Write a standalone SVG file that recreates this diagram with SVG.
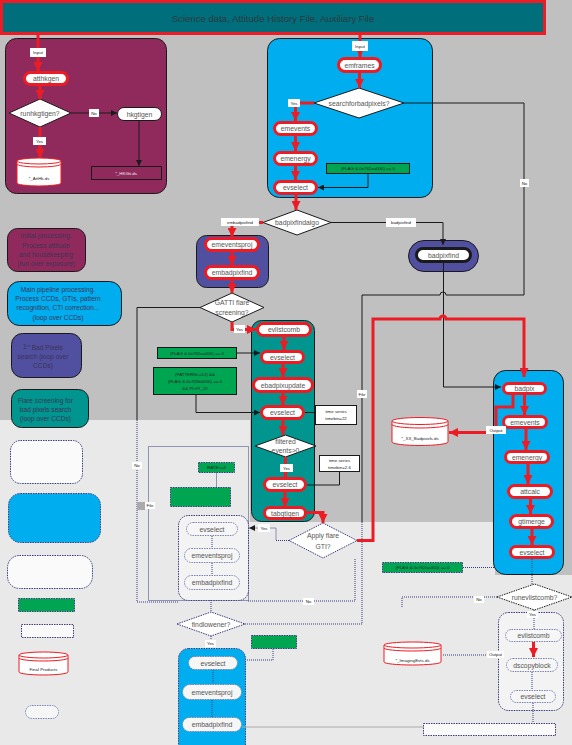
<svg xmlns="http://www.w3.org/2000/svg" width="572" height="745" viewBox="0 0 572 745">
<defs>
<style>
text{font-family:"Liberation Sans",Arial,Helvetica,sans-serif}
.t{font-size:6.8px;fill:#555;text-anchor:middle;dominant-baseline:central}
.lg{font-size:6.6px;fill:#3a3458;text-anchor:middle;dominant-baseline:central}
.s{font-size:4.4px;fill:#222;text-anchor:middle;dominant-baseline:central}
.pr{fill:#fff;stroke:#ed1c24;stroke-width:3}
.pk{fill:#fff;stroke:#1a1a1a;stroke-width:1}
.pd{fill:#f6f6f6;stroke:#7a80b0;stroke-width:1;stroke-dasharray:1.5 1}
.dm{fill:#fff;stroke:#1a1a1a;stroke-width:1}
.dd{fill:#fafafa;stroke:#3a3a80;stroke-width:1;stroke-dasharray:1.5 1}
.lb{fill:#fff}
.gb{fill:#00a551;stroke:#1a1a1a;stroke-width:1}
.gd{fill:#00a551;stroke:#3a3a80;stroke-width:1;stroke-dasharray:1.5 1}
.wb{fill:#fff;stroke:#1a1a1a;stroke-width:1}
.r{fill:none;stroke:#ed1c24;stroke-width:3}
.k{fill:none;stroke:#1a1a1a;stroke-width:1}
.d{fill:none;stroke:#3a3a80;stroke-width:1;stroke-dasharray:1 1}
.cy{fill:#fff;stroke:#ed1c24;stroke-width:1}
</style>
<marker id="ar" viewBox="0 0 10 10" refX="10" refY="5" markerWidth="9" markerHeight="9" markerUnits="userSpaceOnUse" orient="auto"><path d="M0,0L10,5L0,10z" fill="#ed1c24"/></marker>
<marker id="ak" viewBox="0 0 10 10" refX="10" refY="5" markerWidth="6" markerHeight="6" markerUnits="userSpaceOnUse" orient="auto"><path d="M0,0L10,5L0,10z" fill="#1a1a1a"/></marker>
</defs>
<rect width="572" height="745" fill="#c0c0c0"/>
<path d="M0,420 H250 V522 H495 V575 H572 V745 H0 Z" fill="#e9e9e9"/>

<g id="title"><rect x="1.5" y="1.5" width="543" height="32" fill="#006e7b" stroke="#ed1c24" stroke-width="3"/><text x="273" y="18" font-size="9.6" fill="#2b3a40" text-anchor="middle" dominant-baseline="central">Science data, Attitude History File, Auxiliary File</text></g>

<g id="grp-initial"><rect x="5.5" y="38.5" width="161" height="155" rx="11" fill="#912a5c" stroke="#1a1a1a"/></g>
<g id="grp-main"><rect x="267.5" y="38.5" width="165" height="159" rx="12" fill="#00aeef" stroke="#1a1a1a"/></g>
<g id="grp-badpix1"><rect x="196.5" y="235.5" width="72" height="52" rx="10" fill="#514f9f" stroke="#1a1a1a"/></g>
<g id="grp-flare"><rect x="251.5" y="320.5" width="63" height="201" rx="10" fill="#00958e" stroke="#1a1a1a"/></g>
<g id="grp-badpix"><rect x="493.5" y="370.5" width="70" height="204" rx="12" fill="#00aeef" stroke="#1a1a1a"/></g>
<g id="grp-badpixfind"><rect x="408.5" y="240.5" width="70" height="31" rx="15.5" fill="#514f9f" stroke="#1a1a1a"/></g>
<g id="grp-mid"><rect x="148.5" y="446.5" width="100" height="154" fill="none" stroke="#3a3a80" stroke-dasharray="1 1"/><rect x="178.5" y="515.5" width="70" height="85" rx="10" fill="#f3f3f3" stroke="#3a3a80" stroke-dasharray="1.5 1"/></g>
<g id="grp-low"><rect x="178.5" y="648.5" width="67" height="110" rx="10" fill="#00aeef" stroke="#3a3a80" stroke-dasharray="1.5 1"/></g>
<g id="grp-comb"><rect x="498.5" y="612.5" width="65" height="98" rx="10" fill="#f3f3f3" stroke="#3a3a80" stroke-dasharray="1.5 1"/></g>

<!-- legend -->
<g id="leg-initial"><rect x="7.5" y="228.5" width="78" height="43" rx="10" fill="#912a5c" stroke="#1a1a1a"/><text class="lg" x="46" y="235.7">Initial processing.</text><text class="lg" x="46" y="245">Process attitude</text><text class="lg" x="46" y="254.7">and housekeeping</text><text class="lg" x="46" y="263.7">(run over exposure)</text></g>
<g id="leg-main"><rect x="7.5" y="281.5" width="114" height="44" rx="12" fill="#00aeef" stroke="#1a1a1a"/><text class="lg" x="58" y="289">Main pipeline processing.</text><text class="lg" x="58" y="298">Process CCDs, GTIs, pattern</text><text class="lg" x="58" y="307.7">recognition, CTI correction...</text><text class="lg" x="58" y="317">(loop over CCDs)</text></g>
<g id="leg-bad1"><rect x="11.5" y="333.5" width="70" height="44" rx="11" fill="#514f9f" stroke="#1a1a1a"/><text class="lg" x="43" y="346.7">1<tspan font-size="4" dy="-2">st</tspan><tspan dy="2">  Bad Pixels</tspan></text><text class="lg" x="43" y="356.7">search (loop over</text><text class="lg" x="43" y="365.7">CCDs)</text></g>
<g id="leg-flare"><rect x="11.5" y="389.5" width="77" height="38" rx="10" fill="#00958e" stroke="#1a1a1a"/><text class="lg" x="45.5" y="400">Flare screening for</text><text class="lg" x="45.5" y="409">bad pixels search</text><text class="lg" x="45.5" y="418">(loop over CCDs)</text></g>
<g id="leg-5"><rect x="10.5" y="440.5" width="72" height="43" rx="10" class="dd"/></g>
<g id="leg-6"><rect x="8.5" y="493.5" width="92" height="49" rx="12" fill="#00aeef" stroke="#3a3a80" stroke-dasharray="1.5 1"/></g>
<g id="leg-7"><rect x="7.5" y="555.5" width="85" height="33" rx="12" class="dd"/></g>
<g id="leg-8"><rect x="18.5" y="598.5" width="56" height="13" class="gd"/></g>
<g id="leg-9"><rect x="21.5" y="624.5" width="52" height="13" class="dd"/></g>
<g id="leg-10"><path d="M19,655 V672 A24.5,3 0 0 0 68,672 V655" class="cy" stroke="#bbb"/><ellipse cx="43.5" cy="655" rx="24.5" ry="3" class="cy"/><path d="M19,658 A24.5,3 0 0 0 68,658" fill="none" stroke="#ed1c24"/><text class="s" x="43.5" y="669">Final Products</text></g>
<g id="leg-11"><rect x="25.5" y="705.5" width="33" height="13" rx="6.5" class="pd"/></g>

<!-- initial processing -->
<g id="n-atthkgen"><rect x="24.5" y="72.5" width="43" height="12" rx="6" class="pr"/><text class="t" x="46" y="78.5">atthkgen</text></g>
<g id="n-runhkgtigen"><path d="M9,113L40,99L71,113L40,127Z" class="dm"/><text class="t" x="40" y="113">runhkgtigen?</text></g>
<g id="n-hkgtigen"><rect x="117.5" y="107.5" width="44" height="13" rx="6.5" class="pk"/><text class="t" x="139.5" y="114">hkgtigen</text></g>
<g id="n-hkgti"><rect x="91.5" y="166.5" width="70" height="13" fill="none" stroke="#1a1a1a"/><text class="s" x="126" y="173" fill="#eee" style="fill:#eee">*_HKGti.ds</text></g>
<g id="n-atthk"><path d="M17,161 V183 A22,3 0 0 0 61,183 V161" class="cy" stroke="#ddd"/><ellipse cx="39" cy="161" rx="22" ry="3" class="cy"/><path d="M17,164 A22,3 0 0 0 61,164" fill="none" stroke="#ed1c24"/><text class="s" x="39" y="178">*_AttHk.ds</text></g>

<!-- main pipeline -->
<g id="n-emframes"><rect x="338.5" y="58.5" width="42" height="13" rx="6.5" class="pr"/><text class="t" x="359.5" y="65">emframes</text></g>
<g id="n-search"><path d="M314,103L359,88L404,103L359,118Z" class="dm"/><text class="t" x="359" y="103">searchforbadpixels?</text></g>
<g id="n-emevents1"><rect x="274.5" y="122.5" width="42" height="12" rx="6" class="pr"/><text class="t" x="295.5" y="128.5">emevents</text></g>
<g id="n-emenergy1"><rect x="274.5" y="152.5" width="42" height="12" rx="6" class="pr"/><text class="t" x="295.5" y="158.5">emenergy</text></g>
<g id="n-evselect1"><rect x="274.5" y="181.5" width="42" height="12" rx="6" class="pr"/><text class="t" x="295.5" y="187.5">evselect</text></g>
<g id="n-g1"><rect x="326.5" y="163.5" width="83" height="10" class="gb"/><text class="s" x="368" y="168.5">(FLAG &amp; 0x762aa000) == 0</text></g>
<g id="n-algo"><path d="M263,222.5L297,210L331,222.5L297,235Z" class="dm"/><text class="t" x="297" y="222.5">badpixfindalgo</text></g>

<!-- first bad pixel search -->
<g id="n-emeventsproj1"><rect x="205.5" y="238.5" width="53" height="12" rx="6" class="pr"/><text class="t" x="232" y="244.5">emeventsproj</text></g>
<g id="n-embadpixfind1"><rect x="205.5" y="266.5" width="53" height="12" rx="6" class="pr"/><text class="t" x="232" y="272.5">embadpixfind</text></g>
<g id="n-gatti"><path d="M200,307.5L232,293L264,307.5L232,322Z" class="dm"/><text class="t" x="232" y="302.7">GATTI flare</text><text class="t" x="232" y="312">screening?</text></g>
<g id="n-badpixfind"><rect x="416.5" y="248.5" width="54" height="13" rx="6.5" fill="#fff" stroke="#1a1a1a" stroke-width="3"/><text class="t" x="443.5" y="255">badpixfind</text></g>

<!-- flare screening -->
<g id="n-evlistcomb1"><rect x="257.5" y="323.5" width="53" height="12" rx="6" class="pr"/><text class="t" x="284" y="329.5">evlistcomb</text></g>
<g id="n-evselect2"><rect x="261.5" y="351.5" width="42" height="11" rx="5.5" class="pr"/><text class="t" x="282.5" y="357">evselect</text></g>
<g id="n-g2"><rect x="157.5" y="347.5" width="79" height="11" class="gb"/><text class="s" x="197" y="353">(FLAG &amp; 0x762aa000) == 0</text></g>
<g id="n-ebadpixupdate"><rect x="253.5" y="378.5" width="59" height="13" rx="6.5" class="pr"/><text class="t" x="283" y="385">ebadpixupdate</text></g>
<g id="n-g3"><rect x="153.5" y="367.5" width="83" height="27" class="gb"/><text class="s" x="195" y="374">(PATTERN&lt;=12) &amp;&amp;</text><text class="s" x="195" y="381">(FLAG &amp; 0x762b0000) == 0</text><text class="s" x="195" y="388">&amp;&amp; PI&gt;PI_22</text></g>
<g id="n-evselect3"><rect x="261.5" y="406.5" width="42" height="12" rx="6" class="pr"/><text class="t" x="282.5" y="412.5">evselect</text></g>
<g id="n-ts1"><rect x="315.5" y="405.5" width="41" height="19" class="wb"/><text class="s" x="336" y="411">time series</text><text class="s" x="336" y="418.5">timebin=22</text></g>
<g id="n-filtered"><path d="M255,446L285.5,435L316,446L285.5,457Z" class="dm"/><text class="t" x="285.5" y="441.5">filtered</text><text class="t" x="285.5" y="450.5">events&gt;0</text></g>
<g id="n-ts2"><rect x="319.5" y="455.5" width="40" height="16" class="wb"/><text class="s" x="339.5" y="460.5">time series</text><text class="s" x="339.5" y="467">timebin=2.6</text></g>
<g id="n-evselect4"><rect x="264.5" y="478.5" width="41" height="12" rx="6" class="pr"/><text class="t" x="285" y="484.5">evselect</text></g>
<g id="n-tabgtigen"><rect x="264.5" y="507.5" width="41" height="11" rx="5.5" class="pr"/><text class="t" x="285" y="513">tabgtigen</text></g>
<g id="n-apply"><path d="M289,540.5L323,523L357,540.5L323,558Z" fill="#fff" stroke="#3a3a80" stroke-dasharray="1.5 1"/><text class="t" x="323" y="535.5">Apply flare</text><text class="t" x="323" y="546">GTI?</text></g>

<!-- badpix chain -->
<g id="n-badpix"><rect x="503.5" y="383.5" width="42" height="10" rx="5" class="pr"/><text class="t" x="524.5" y="388.5">badpix</text></g>
<g id="n-emevents2"><rect x="503.5" y="416.5" width="43" height="11" rx="5.5" class="pr"/><text class="t" x="525" y="422">emevents</text></g>
<g id="n-emenergy2"><rect x="505.5" y="451.5" width="43" height="11" rx="5.5" class="pr"/><text class="t" x="527" y="457">emenergy</text></g>
<g id="n-attcalc"><rect x="508.5" y="485.5" width="43" height="12" rx="6" class="pr"/><text class="t" x="530" y="491.5">attcalc</text></g>
<g id="n-gtimerge"><rect x="510.5" y="515.5" width="42" height="12" rx="6" class="pr"/><text class="t" x="531.5" y="521.5">gtimerge</text></g>
<g id="n-evselect5"><rect x="510.5" y="546.5" width="43" height="11" rx="5.5" class="pr"/><text class="t" x="532" y="552">evselect</text></g>
<g id="n-badpixels"><path d="M392,421 V442 A28,3.5 0 0 0 448,442 V421" class="cy" stroke="#ddd"/><ellipse cx="420" cy="421" rx="28" ry="3.5" class="cy"/><path d="M392,424.5 A28,3.5 0 0 0 448,424.5" fill="none" stroke="#ed1c24"/><text class="s" x="420" y="438">*_XX_Badpixels.ds</text></g>

<!-- lower middle -->
<g id="n-rate"><rect x="198.5" y="462.5" width="36" height="10" class="gd"/><text class="s" x="216.5" y="467.5">RATE&lt;=2</text></g>
<g id="n-gti"><rect x="170.5" y="487.5" width="60" height="19" class="gd"/></g>
<g id="n-evselect6"><rect x="186.5" y="522.5" width="51" height="13" rx="6.5" class="pd"/><text class="t" x="212" y="529">evselect</text></g>
<g id="n-emeventsproj2"><rect x="184.5" y="548.5" width="55" height="14" rx="7" class="pd"/><text class="t" x="212" y="555.5">emeventsproj</text></g>
<g id="n-embadpixfind2"><rect x="184.5" y="575.5" width="55" height="14" rx="7" class="pd"/><text class="t" x="212" y="582.5">embadpixfind</text></g>
<g id="n-lowener"><path d="M177,624L211,612L245,624L211,636Z" fill="#fff" stroke="#3a3a80" stroke-dasharray="1.5 1"/><text class="t" x="211" y="624">findlowener?</text></g>
<g id="n-g4"><rect x="251.5" y="635.5" width="45" height="13" class="gd"/></g>
<g id="n-evselect7"><rect x="188.5" y="656.5" width="49" height="13" rx="6.5" class="pd"/><text class="t" x="213" y="663">evselect</text></g>
<g id="n-emeventsproj3"><rect x="182.5" y="684.5" width="59" height="15" rx="7.5" class="pd"/><text class="t" x="212" y="692">emeventsproj</text></g>
<g id="n-embadpixfind3"><rect x="182.5" y="717.5" width="59" height="14" rx="7" class="pd"/><text class="t" x="212" y="724.5">embadpixfind</text></g>

<!-- lower right -->
<g id="n-g5"><rect x="382.5" y="562.5" width="80" height="10" class="gd"/><text class="s" x="422.5" y="567.5">(FLAG &amp; 0x762aa000) == 0</text></g>
<g id="n-runcomb"><path d="M497,597L534.5,584L572,597L534.5,610Z" fill="#fff" stroke="#1a1a1a" stroke-dasharray="1.5 1"/><text class="t" x="534.5" y="597">runevlistcomb?</text></g>
<g id="n-evlistcomb2"><rect x="505.5" y="629.5" width="56" height="12" rx="6" class="pd"/><text class="t" x="533.5" y="635.5">evlistcomb</text></g>
<g id="n-dscopyblock"><rect x="506.5" y="658.5" width="51" height="13" rx="6.5" class="pd"/><text class="t" x="532" y="665">dscopyblock</text></g>
<g id="n-evselect8"><rect x="510.5" y="690.5" width="45" height="12" rx="6" class="pd"/><text class="t" x="533" y="696.5">evselect</text></g>
<g id="n-imaging"><path d="M384,645 V662 A28.5,3 0 0 0 441,662 V645" class="cy" stroke="#ccc"/><ellipse cx="412.5" cy="645" rx="28.5" ry="3" class="cy"/><path d="M384,648 A28.5,3 0 0 0 441,648" fill="none" stroke="#ed1c24"/><text class="s" x="412.5" y="660">*_ImagingEvts.ds</text></g>
<g id="n-final"><rect x="423.5" y="723.5" width="132" height="12" fill="#fafafa" stroke="#3a3a80" stroke-dasharray="1.5 1"/></g>

<g id="connectors">
<path class="r" d="M38,35V71" marker-end="url(#ar)"/>
<path class="r" d="M40,86V99" marker-end="url(#ar)"/>
<path class="k" d="M71,113H117" marker-end="url(#ak)"/>
<path class="k" d="M139,121V166" marker-end="url(#ak)"/>
<path class="r" d="M40,127V158" marker-end="url(#ar)"/>
<path class="r" d="M360,35V57" marker-end="url(#ar)"/>
<path class="r" d="M359.5,73V88" marker-end="url(#ar)"/>
<path class="r" d="M314,103H295.5V121" marker-end="url(#ar)"/>
<path class="r" d="M295.5,136V151" marker-end="url(#ar)"/>
<path class="r" d="M295.5,166V180" marker-end="url(#ar)"/>
<path class="k" d="M368,174V187.5H318" marker-end="url(#ak)"/>
<path class="r" d="M296,195V210" marker-end="url(#ar)"/>
<path class="k" d="M404,103H524V295H446a3,3 0 0 0 -6,0H362V522"/>
<path class="d" d="M362,522V624H245"/>
<path class="k" d="M331,222.5H443V245" marker-end="url(#ak)"/>
<path class="k" d="M443.5,263V387H501" marker-end="url(#ak)"/>
<path class="r" d="M263,222.5H232V237" marker-end="url(#ar)"/>
<path class="r" d="M232,252V265" marker-end="url(#ar)"/>
<path class="r" d="M232,280V293" marker-end="url(#ar)"/>
<path class="k" d="M200,307.5H137V420"/>
<path class="d" d="M137,420V602H178"/>
<path class="r" d="M232,322V329.5H256" marker-end="url(#ar)"/>
<path class="r" d="M284,337V350" marker-end="url(#ar)"/>
<path class="k" d="M237,353H260" marker-end="url(#ak)"/>
<path class="r" d="M283,364V377" marker-end="url(#ar)"/>
<path class="r" d="M283,393V405" marker-end="url(#ar)"/>
<path class="k" d="M196,395V412.5H260" marker-end="url(#ak)"/>
<path class="k" d="M305,412.5H315"/>
<path class="r" d="M283,420V435" marker-end="url(#ar)"/>
<path class="r" d="M285.5,457V477" marker-end="url(#ar)"/>
<path class="k" d="M339.5,472V485H307"/>
<path class="r" d="M285,492V507" marker-end="url(#ar)"/>
<path class="r" d="M307,512.5H323V523" marker-end="url(#ar)"/>
<path class="r" d="M357,540.5H373V319H440a3,3 0 0 1 6,0H524V377" marker-end="url(#ar)"/>
<path class="d" d="M289,540.5H276V528H249" marker-end="url(#ak)"/>
<path class="r" d="M524.5,395V415" marker-end="url(#ar)"/>
<path class="r" d="M526,429V450" marker-end="url(#ar)"/>
<path class="r" d="M528,464V484" marker-end="url(#ar)"/>
<path class="r" d="M530.5,499V514" marker-end="url(#ar)"/>
<path class="r" d="M532,529V545" marker-end="url(#ar)"/>
<path class="r" d="M513,395V407H496V432.5H449" marker-end="url(#ar)"/>
<path class="d" d="M216.5,472.5V487"/>
<path class="d" d="M212,536V548"/>
<path class="d" d="M212,563V575"/>
<path class="d" d="M211,600V612"/>
<path class="d" d="M248,601H355V558"/>
<path class="d" d="M211,636V648"/>
<path class="d" d="M273,649V660H246"/>
<path class="d" d="M213,670V684"/>
<path class="d" d="M212,700V717"/>
<path d="M242,727H423" fill="none" stroke="#aaa"/>
<path class="d" d="M463,567.5H494"/>
<path class="d" d="M532,559V584"/>
<path class="d" d="M497,597H402V607"/>
<path class="d" d="M534,610V629"/>
<path class="r" d="M533.5,642V657" marker-end="url(#ar)"/>
<path class="d" d="M532,672V690"/>
<path class="d" d="M498,655H442"/>
<path class="d" d="M533,703V723"/>
</g>

<g id="labels">
<rect class="lb" x="30" y="48" width="16" height="9"/><text class="s" x="38" y="52.5">Input</text>
<rect class="lb" x="89" y="109" width="10" height="8"/><text class="s" x="94" y="113">No</text>
<rect class="lb" x="33" y="137" width="13" height="8"/><text class="s" x="39.5" y="141">Yes</text>
<rect class="lb" x="352" y="41" width="16" height="10"/><text class="s" x="360" y="46">Input</text>
<rect class="lb" x="288" y="99" width="12" height="8"/><text class="s" x="294" y="103">Yes</text>
<rect class="lb" x="520" y="179" width="9" height="8"/><text class="s" x="524.5" y="183">No</text>
<rect class="lb" x="221" y="218" width="38" height="8"/><text class="s" x="240" y="222">embadpixfind</text>
<rect class="lb" x="386" y="218" width="30" height="9"/><text class="s" x="401" y="222.5">badpixfind</text>
<rect class="lb" x="234" y="325" width="11" height="8"/><text class="s" x="239.5" y="329">Yes</text>
<rect class="lb" x="280" y="464" width="13" height="8"/><text class="s" x="286.5" y="468">Yes</text>
<rect class="lb" x="357" y="390" width="10" height="8"/><text class="s" x="362" y="394">File</text>
<rect class="lb" x="486" y="426" width="20" height="8"/><text class="s" x="496" y="430">Output</text>
<rect class="lb" x="132" y="462" width="10" height="7"/><text class="s" x="137" y="465.5">No</text>
<rect fill="#aaa" x="137" y="502" width="8" height="8"/>
<rect class="lb" x="145" y="502" width="10" height="7"/><text class="s" x="150" y="505.5">File</text>
<rect class="lb" x="258" y="524" width="12" height="8"/><text class="s" x="264" y="528">Yes</text>
<rect class="lb" x="303" y="598" width="11" height="7"/><text class="s" x="308.5" y="601.5">No</text>
<rect class="lb" x="205" y="640" width="11" height="7"/><text class="s" x="210.5" y="643.5">Yes</text>
<rect class="lb" x="474" y="596" width="10" height="7"/><text class="s" x="479" y="599.5">No</text>
<rect class="lb" x="527" y="611" width="11" height="7"/><text class="s" x="532.5" y="614.5">Yes</text>
<rect class="lb" x="487" y="651" width="17" height="7"/><text class="s" x="495.5" y="654.5">Output</text>
</g>
</svg>
